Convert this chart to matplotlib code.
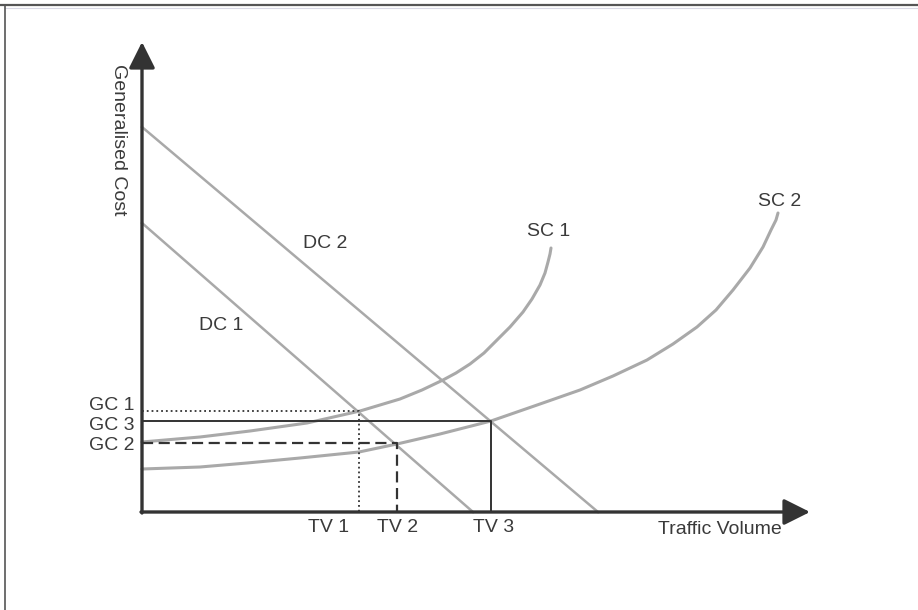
import matplotlib.pyplot as plt
from matplotlib.lines import Line2D

# values (x = traffic volume, y = generalised cost, arbitrary units)
dc1_x = [0, 331]
dc1_y = [289, 0]
dc2_x = [0, 456]
dc2_y = [385, 0]

sc1_x = [0, 58, 108, 165, 218, 258, 280, 301, 314, 328, 342, 355, 368, 381, 390, 398, 403, 406, 408, 409]
sc1_y = [70, 75, 81, 89, 101, 113, 122, 132, 139, 148, 159, 172, 185, 200, 213, 227, 239, 250, 258, 264]
sc2_x = [0, 58, 105, 158, 217, 255, 298, 349, 398, 438, 471, 505, 531, 555, 574, 591, 608, 621, 629, 634, 636]
sc2_y = [43, 45, 49, 54, 60, 68, 78, 91, 108, 122, 136, 152, 168, 185, 202, 222, 244, 265, 282, 292, 299]

tv = {'TV 1': 217, 'TV 2': 255, 'TV 3': 349}
gc = {'GC 1': 101, 'GC 2': 69, 'GC 3': 91}

plt.rcParams['font.family'] = ['Liberation Sans', 'DejaVu Sans']

fig = plt.figure(figsize=(9.18, 6.10), dpi=100)
ax = fig.add_axes([0, 0, 1, 1])
ax.set_xlim(-142, 776)
ax.set_ylim(-98, 512)
ax.axis('off')

txt = '#3a3a3a'
curve = '#a9a9a9'
ref = '#333333'

# scanned page border
fig.add_artist(Line2D([0, 1], [1 - 4.5/610, 1 - 4.5/610], color='#555555', lw=1.6))
fig.add_artist(Line2D([0.005, 1], [1 - 7.5/610, 1 - 7.5/610], color='#d8d8e4', lw=0.8))
fig.add_artist(Line2D([4.5/918, 4.5/918], [0, 1 - 4.5/610], color='#555555', lw=1.2))

# demand and supply cost curves
ax.plot(dc1_x, dc1_y, color=curve, lw=1.8)
ax.plot(dc2_x, dc2_y, color=curve, lw=1.8)
ax.plot(sc1_x, sc1_y, color=curve, lw=2.2, solid_capstyle='round', solid_joinstyle='round')
ax.plot(sc2_x, sc2_y, color=curve, lw=2.2, solid_capstyle='round', solid_joinstyle='round')

# equilibrium guide lines
ax.plot([0, tv['TV 1'], tv['TV 1']], [gc['GC 1'], gc['GC 1'], 0], color=ref, lw=1.3, ls=':')
ax.plot([0, tv['TV 2'], tv['TV 2']], [gc['GC 2'], gc['GC 2'], 0], color=ref, lw=1.6, dashes=(5, 2.5))
ax.plot([0, tv['TV 3'], tv['TV 3']], [gc['GC 3'], gc['GC 3'], 0], color=ref, lw=1.4)

# axes with arrow heads
arrow = dict(arrowstyle='-|>,head_length=0.8,head_width=0.4', mutation_scale=20,
             lw=2.4, color=ref, shrinkA=0, shrinkB=0)
ax.annotate('', xy=(0, 470), xytext=(0, -1), arrowprops=arrow)
ax.annotate('', xy=(668, 0), xytext=(-1, 0), arrowprops=arrow)

fs = 14
ax.text(-24, 372, 'Generalised Cost', rotation=-90, ha='center', va='center',
        fontsize=fs, color=txt)
ax.text(578, -17, 'Traffic Volume', ha='center', va='center', fontsize=fs, color=txt)
tv_label_x = {'TV 1': 187, 'TV 2': 256, 'TV 3': 352}
for name, v in tv_label_x.items():
    ax.text(v, -15, name, ha='center', va='center', fontsize=fs, color=txt)
label_y = {'GC 1': 106, 'GC 3': 87, 'GC 2': 67}
for name, v in label_y.items():
    ax.text(-8, v, name, ha='right', va='center', fontsize=fs, color=txt)

ax.text(183, 269, 'DC 2', ha='center', va='center', fontsize=fs, color=txt)
ax.text(79, 186, 'DC 1', ha='center', va='center', fontsize=fs, color=txt)
ax.text(407, 280, 'SC 1', ha='center', va='center', fontsize=fs, color=txt)
ax.text(638, 311, 'SC 2', ha='center', va='center', fontsize=fs, color=txt)

fig.savefig('out.png', dpi=100, facecolor='white')
